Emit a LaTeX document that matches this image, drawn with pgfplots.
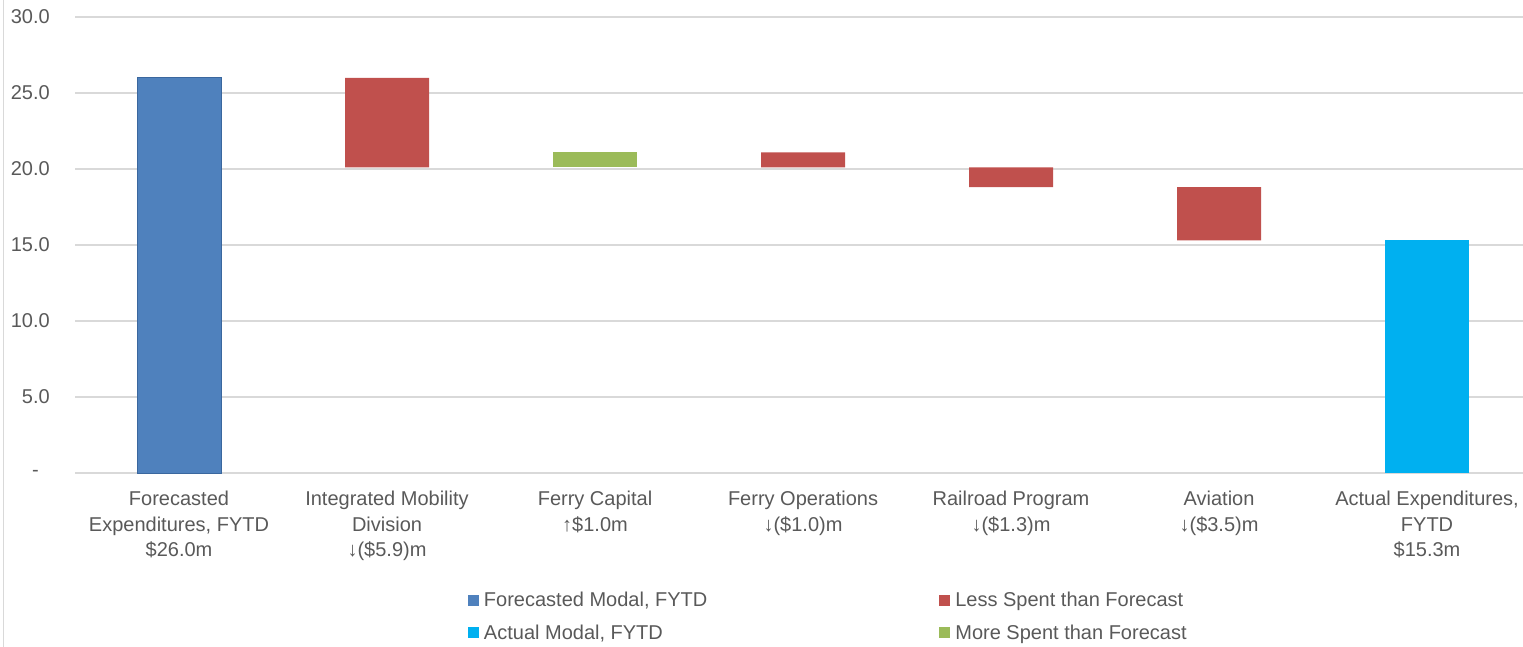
\documentclass[border=0pt]{standalone}
\usepackage{pgfplots}
\pgfplotsset{compat=1.18}
\usepackage{fontspec}
\setmainfont{Liberation Sans}
\definecolor{txt}{HTML}{595959}
\definecolor{gridc}{HTML}{D9D9D9}
\definecolor{fblue}{HTML}{4F81BD}
\definecolor{fblueb}{HTML}{3A679E}
\definecolor{lred}{HTML}{C0504D}
\definecolor{mgreen}{HTML}{9BBB59}
\definecolor{ablue}{HTML}{00B0F0}
\begin{document}
\begin{tikzpicture}
\useasboundingbox (0bp,0bp) rectangle (1523bp,-647bp);
\draw[gridc, line width=1.2bp] (3.5bp,0bp) -- (3.5bp,-647bp);
\begin{axis}[
  at={(75bp,-473bp)}, anchor=south west,
  scale only axis, width=1448bp, height=456bp,
  xmin=-0.5, xmax=6.4615, ymin=0, ymax=30,
  ybar stacked, bar width=84bp,
  axis line style={draw=none},
  major tick length=0pt,
  ytick={0,5,10,15,20,25,30},
  yticklabels={-\hphantom{0}, 5.0, 10.0, 15.0, 20.0, 25.0, 30.0},
  ymajorgrids, grid style={gridc, line width=1.2bp},
  yticklabel style={inner sep=0pt, anchor=east, xshift=-25bp, font=\fontsize{20bp}{24bp}\selectfont, text=txt},
  xtick={0,1,2,3,4,5,6},
  xticklabels={{Forecasted\\Expenditures, FYTD\\\$26.0m},
               {Integrated Mobility\\Division\\↓(\$5.9)m},
               {Ferry Capital\\↑\$1.0m},
               {Ferry Operations\\↓(\$1.0)m},
               {Railroad Program\\↓(\$1.3)m},
               {Aviation\\↓(\$3.5)m},
               {Actual Expenditures,\\FYTD\\\$15.3m}},
  xticklabel style={align=center, inner sep=0pt, anchor=north, yshift=-18bp, font=\fontsize{20bp}{25.3bp}\selectfont, text=txt},
  legend columns=2,
  legend cell align=left,
  legend image code/.code={\fill[#1, draw=none] (0bp,-5.5bp) rectangle (11bp,5.5bp);},
  legend style={at={(rel axis cs:0.2714,-0.2566)}, anchor=north west, draw=none, fill=none,
    inner sep=0pt, outer sep=0pt, font=\fontsize{20bp}{24bp}\selectfont, text=txt,
    row sep=13bp,
    /tikz/every odd column/.append style={column sep=3bp},
    /tikz/every even column/.append style={column sep=230bp}},
]
% invisible base of the floating bars
\addplot[draw=none, fill=none, forget plot] coordinates {(1,20.1) (2,20.1) (3,20.1) (4,18.8) (5,15.3)};
% less spent than forecast
\addplot[draw=none, fill=lred, forget plot] coordinates {(1,5.9) (2,0) (3,1.0) (4,1.3) (5,3.5)};
% more spent than forecast
\addplot[draw=none, fill=mgreen, forget plot] coordinates {(1,0) (2,1.0) (3,0) (4,0) (5,0)};
% totals
\addplot[stack plots=false, fill=fblue, draw=fblueb, line width=1bp, forget plot] coordinates {(0,26.0)};
\addplot[stack plots=false, fill=ablue, draw=none, forget plot] coordinates {(6,15.3)};
\addlegendimage{fill=fblue}
\addlegendentry{Forecasted Modal, FYTD}
\addlegendimage{fill=lred}
\addlegendentry{Less Spent than Forecast}
\addlegendimage{fill=ablue}
\addlegendentry{Actual Modal, FYTD}
\addlegendimage{fill=mgreen}
\addlegendentry{More Spent than Forecast}
\end{axis}
\end{tikzpicture}
\end{document}
